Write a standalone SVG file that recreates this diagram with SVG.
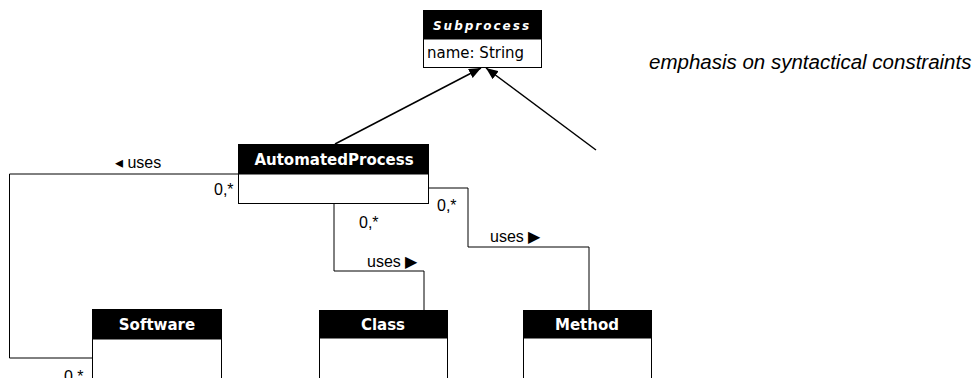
<svg xmlns="http://www.w3.org/2000/svg" width="975" height="378" viewBox="0 0 975 378">
<style>
.box{fill:#fff;stroke:#000;stroke-width:1}
.hdr{fill:#000}
.ht{font-family:"DejaVu Sans",Verdana,sans-serif;font-weight:bold;font-size:15px;fill:#fff;text-anchor:middle}
.at{font-family:"DejaVu Sans",Verdana,sans-serif;font-size:15px;fill:#000}
.lbl{font-family:"Liberation Sans",Arial,sans-serif;font-size:16px;fill:#000}
.conn{fill:none;stroke:#000;stroke-width:1}
.gen{fill:none;stroke:#000;stroke-width:1.5}
</style>
<defs>
<marker id="ah" viewBox="0 0 12 10" refX="12" refY="5" markerWidth="12" markerHeight="10" markerUnits="userSpaceOnUse" orient="auto">
<path d="M0,0 L12,5 L0,10 z" fill="#000"/>
</marker>
</defs>
<g id="connectors">
<line class="gen" x1="335" y1="144" x2="481" y2="68" marker-end="url(#ah)"/>
<line class="gen" x1="596" y1="150" x2="486" y2="68" marker-end="url(#ah)"/>
<polyline class="conn" points="238,174 9.5,174 9.5,358 92,358"/>
<polyline class="conn" points="334,204 334,271 424,271 424,310"/>
<polyline class="conn" points="429,188 468,188 468,247 589,247 589,310"/>
<text class="lbl" x="115" y="168">◂ uses</text>
<text class="lbl" x="214" y="195">0,*</text>
<text class="lbl" x="64" y="382">0,*</text>
<text class="lbl" x="359" y="228">0,*</text>
<text class="lbl" x="367" y="267">uses ▶</text>
<text class="lbl" x="437" y="211">0,*</text>
<text class="lbl" x="490" y="242">uses ▶</text>
</g>
<g id="subprocess">
<rect class="box" x="423.5" y="10.5" width="118" height="57"/>
<rect class="hdr" x="423.5" y="10.5" width="118" height="29"/>
<text class="ht" x="482" y="30" style="font-style:italic;font-size:12px;letter-spacing:2px">Subprocess</text>
<text class="at" x="427" y="58">name: String</text>
</g>
<g id="automatedprocess">
<rect class="box" x="238.5" y="144.5" width="190" height="59"/>
<rect class="hdr" x="238.5" y="144.5" width="190" height="30"/>
<text class="ht" x="334" y="165">AutomatedProcess</text>
</g>
<g id="software">
<rect class="box" x="92.5" y="309.5" width="129" height="80"/>
<rect class="hdr" x="92.5" y="309.5" width="129" height="30"/>
<text class="ht" x="157" y="330">Software</text>
</g>
<g id="class">
<rect class="box" x="319.5" y="310.5" width="128" height="80"/>
<rect class="hdr" x="319.5" y="310.5" width="128" height="28"/>
<text class="ht" x="383" y="330">Class</text>
</g>
<g id="method">
<rect class="box" x="523.5" y="310.5" width="128" height="80"/>
<rect class="hdr" x="523.5" y="310.5" width="128" height="28"/>
<text class="ht" x="587" y="330">Method</text>
</g>
<text class="lbl" x="649" y="69" style="font-style:italic;font-size:20.5px">emphasis on syntactical constraints</text>
</svg>
